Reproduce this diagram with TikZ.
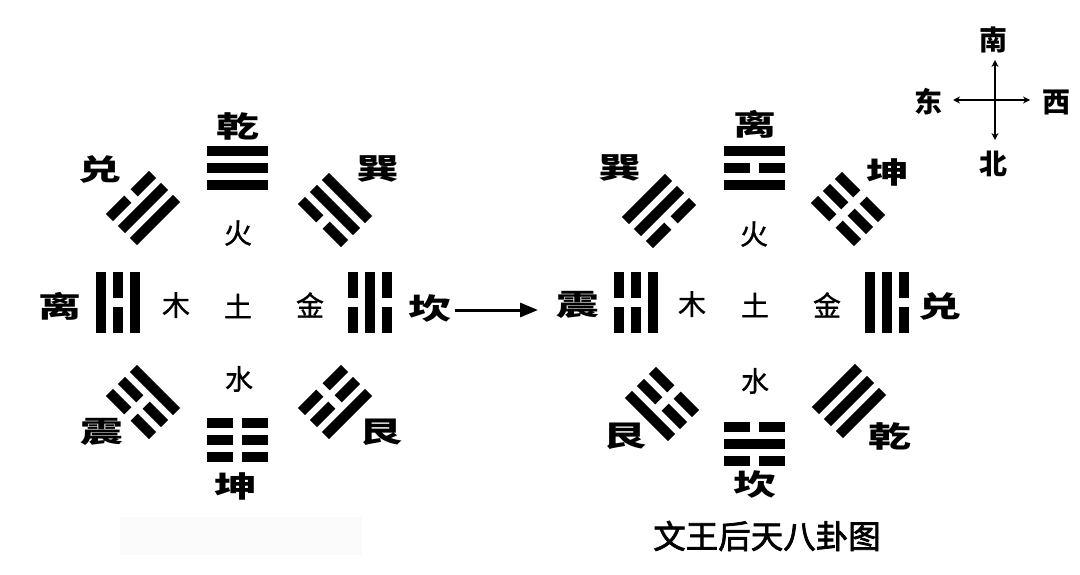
\documentclass[tikz,border=0pt]{standalone}
\usepackage{fontspec}
\newfontfamily\cjk{Noto Sans CJK SC}
\newfontfamily\cjkmed[FakeBold=2.2]{Noto Sans CJK SC}
\newfontfamily\cjklight[FakeBold=1]{Noto Sans CJK SC}
\usetikzlibrary{arrows.meta}
\newcommand\yao[2]{%
  \ifnum#2=1
    \fill (-30.5,#1-5) rectangle (30.5,#1+5);
  \else
    \fill (-30.5,#1-5) rectangle (-4.5,#1+5);
    \fill (4.5,#1-5) rectangle (30.5,#1+5);
  \fi}
% #1 x, #2 y, #3 angle, #4 inner (bottom) line, #5 middle, #6 outer (top) line
\newcommand\gua[6]{%
  \begin{scope}[shift={(#1,#2)},rotate=#3]
    \yao{17}{#4}\yao{0}{#5}\yao{-17}{#6}
  \end{scope}}
\begin{document}
\begin{tikzpicture}[x=1pt,y=-1pt,
  guaname/.style={font=\cjk\bfseries\fontsize{33}{33}\selectfont,inner sep=0pt,xscale=1.3,yscale=0.88},
  element/.style={font=\cjklight\fontsize{28}{28}\selectfont,inner sep=0pt},
  compass/.style={font=\cjk\bfseries\fontsize{28}{28}\selectfont,inner sep=0pt},
  caption/.style={font=\cjkmed\fontsize{32.5}{32.5}\selectfont,inner sep=0pt},
  dirarrow/.style={line width=1.8pt,{Stealth[length=7pt,width=7pt]}-{Stealth[length=7pt,width=7pt]}},
  mainarrow/.style={line width=3pt,-{Triangle[length=18pt,width=14pt]}}]
\fill[white] (0,0) rectangle (1080,575);
\useasboundingbox (0,0) rectangle (1080,575);
\fill[black!1.5] (120,517) rectangle (362,555);

% ---- left diagram (Fuxi) ----
\gua{237}{168}{0}{1}{1}{1}
\gua{143}{208}{45}{1}{1}{0}
\gua{118}{302}{90}{1}{0}{1}
\gua{143}{402}{135}{1}{0}{0}
\gua{237}{440}{180}{0}{0}{0}
\gua{335}{402}{-135}{0}{0}{1}
\gua{370}{302}{-90}{0}{1}{0}
\gua{335}{210}{-45}{0}{1}{1}

\node[guaname] (Lqian) at (238,126) {乾};
\node[guaname] (Ldui) at (100,169) {兑};
\node[guaname] (Lxun) at (378,169) {巽};
\node[guaname] (Lli) at (60,306) {离};
\node[guaname] (Lkan) at (430,308) {坎};
\node[guaname] (Lzhen) at (102,432) {震};
\node[guaname] (Lgen) at (381,432) {艮};
\node[guaname] (Lkun) at (236,486) {坤};

\node[element] (Lhuo) at (238,233) {火};
\node[element] (Lmu) at (176,305) {木};
\node[element] (Ltu) at (238,306) {土};
\node[element] (Ljin) at (310,305) {金};
\node[element] (Lshui) at (239,379) {水};

% ---- right diagram (King Wen) ----
\gua{754}{168}{0}{1}{0}{1}
\gua{659}{211}{45}{0}{1}{1}
\gua{636}{302}{90}{1}{0}{0}
\gua{662}{404}{135}{0}{0}{1}
\gua{754}{444}{180}{0}{1}{0}
\gua{849}{401}{-135}{1}{1}{1}
\gua{887}{302}{-90}{1}{1}{0}
\gua{848}{209}{-45}{0}{0}{0}

\node[guaname] (Rli) at (755,124) {离};
\node[guaname] (Rxun) at (620,168) {巽};
\node[guaname] (Rkun) at (888,172) {坤};
\node[guaname] (Rzhen) at (578,305) {震};
\node[guaname] (Rdui) at (940,306) {兑};
\node[guaname] (Rgen) at (625,436) {艮};
\node[guaname] (Rqian) at (890,436) {乾};
\node[guaname] (Rkan) at (755,484) {坎};

\node[element] (Rhuo) at (754,234) {火};
\node[element] (Rmu) at (692,304) {木};
\node[element] (Rtu) at (755,305) {土};
\node[element] (Rjin) at (827,305) {金};
\node[element] (Rshui) at (755,381) {水};

% ---- transition arrow ----
\coordinate (arrS) at (455,310);
\coordinate (arrE) at (538,310);
\draw[mainarrow] (arrS) -- (arrE);

% ---- compass ----
\node[compass] (south) at (993,40) {南};
\node[compass] (north) at (993,164) {北};
\node[compass] (east) at (928,102) {东};
\node[compass] (west) at (1056,102) {西};
\coordinate (cTop) at (995,60);
\coordinate (cBot) at (995,140);
\coordinate (cLeft) at (953,100);
\coordinate (cRight) at (1030,100);
\draw[dirarrow] (cBot) -- (cTop);
\draw[dirarrow] (cLeft) -- (cRight);

% ---- caption ----
\node[caption] (cap) at (767,536) {文王后天八卦图};
\end{tikzpicture}
\end{document}
